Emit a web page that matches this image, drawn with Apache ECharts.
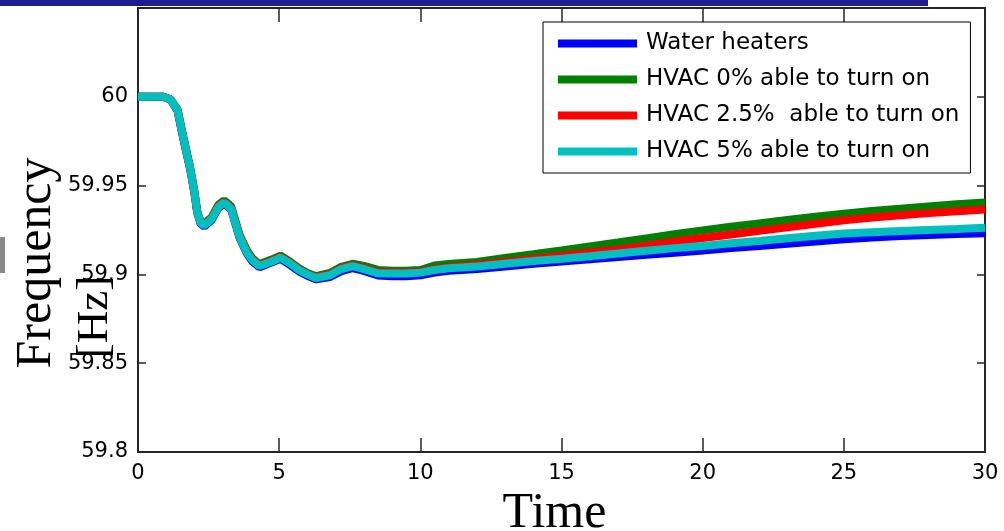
<!DOCTYPE html>
<html>
<head>
<meta charset="utf-8">
<script src="https://cdn.jsdelivr.net/npm/echarts@6/dist/echarts.min.js"></script>
<style>
  html, body { margin: 0; padding: 0; background: #fff; }
  #chart { width: 1004px; height: 531px; }
</style>
</head>
<body>
<div id="chart"></div>
<script>
// time axis (s)
const time = [0, 0.5, 0.9, 1.15, 1.4, 1.55, 1.7, 1.85, 2.0, 2.1,
  2.22, 2.35, 2.6, 2.85, 3.05, 3.3, 3.6, 3.85, 4.05, 4.3,
  4.7, 5.05, 5.4, 5.7, 6.0, 6.3, 6.8, 7.2, 7.6, 8.0,
  8.5, 9.0, 9.5, 10.0, 10.5,
  11, 12, 13, 14, 15, 16, 17, 18, 19, 20,
  21, 22, 23, 24, 25, 26, 27, 28, 29, 30];

const waterHeaters = [60, 60, 60, 59.9985, 59.992, 59.9805, 59.9695, 59.959, 59.9455, 59.9345,
  59.9285, 59.927, 59.9305, 59.9375, 59.94, 59.9365, 59.9205, 59.912, 59.9073, 59.904,
  59.9065, 59.9088, 59.9052, 59.9017, 59.8992, 59.8972, 59.8985, 59.9018, 59.9035, 59.902,
  59.8994, 59.899, 59.899, 59.8995, 59.901,
  59.902, 59.903, 59.9045, 59.906, 59.9072, 59.9085, 59.9098, 59.911, 59.9122, 59.9135,
  59.9148, 59.916, 59.9172, 59.9185, 59.9198, 59.9208, 59.9216, 59.9222, 59.9227, 59.9232];

const hvac0 = [60, 60, 60, 59.9985, 59.993, 59.9815, 59.9705, 59.96, 59.9465, 59.9355,
  59.9295, 59.9285, 59.932, 59.9393, 59.9417, 59.9383, 59.9222, 59.9137, 59.9091, 59.9057,
  59.9082, 59.9105, 59.907, 59.9035, 59.9008, 59.899, 59.9008, 59.9043, 59.906, 59.9048,
  59.9025, 59.902, 59.902, 59.9025, 59.905,
  59.9058, 59.907, 59.9092, 59.9113, 59.9135, 59.9158, 59.918, 59.9203, 59.9226, 59.9248,
  59.9268, 59.9287, 59.9306, 59.9325, 59.9342, 59.9357, 59.937, 59.9383, 59.9395, 59.9405];

const hvac25 = [60, 60, 60, 59.9985, 59.9925, 59.981, 59.970, 59.9595, 59.946, 59.935,
  59.929, 59.9278, 59.9313, 59.9385, 59.9408, 59.9375, 59.9215, 59.913, 59.9085, 59.905,
  59.9074, 59.9098, 59.9064, 59.9028, 59.9003, 59.8984, 59.9, 59.9035, 59.9052, 59.9036,
  59.9012, 59.901, 59.901, 59.9015, 59.903,
  59.904, 59.9055, 59.907, 59.9088, 59.9105, 59.9123, 59.914, 59.9162, 59.9185, 59.9205,
  59.9225, 59.9245, 59.9265, 59.9285, 59.9305, 59.932, 59.9333, 59.9345, 59.9355, 59.9365];

const hvac5 = [60, 60, 60, 59.9985, 59.9925, 59.981, 59.970, 59.9595, 59.946, 59.935,
  59.929, 59.9275, 59.931, 59.938, 59.9405, 59.937, 59.921, 59.9125, 59.908, 59.9047,
  59.907, 59.9094, 59.906, 59.9025, 59.900, 59.898, 59.8995, 59.903, 59.9047, 59.903,
  59.9006, 59.9005, 59.9005, 59.901, 59.9025,
  59.9035, 59.9045, 59.906, 59.9075, 59.9088, 59.9102, 59.9118, 59.9133, 59.9148, 59.916,
  59.9175, 59.9188, 59.9203, 59.9218, 59.923, 59.9238, 59.9245, 59.925, 59.9255, 59.9262];

const seriesNames = ['Water heaters', 'HVAC 0% able to turn on', 'HVAC 2.5%  able to turn on', 'HVAC 5% able to turn on'];
const seriesColors = ['#0000ff', '#008000', '#ff0000', '#00bfbf'];
const seriesValues = [waterHeaters, hvac0, hvac25, hvac5];

let myChart = echarts.init(document.getElementById('chart'));

const axisColor = '#262626';
const tickFont = { fontFamily: 'DejaVu Sans', fontSize: 21, color: '#000' };

let series = seriesValues.map((vals, i) => ({
  name: seriesNames[i],
  type: 'line',
  showSymbol: false,
  animation: false,
  data: time.map((t, k) => [t, vals[k]]),
  lineStyle: { width: 8, color: seriesColors[i] },
  itemStyle: { color: seriesColors[i] }
}));

let xCommon = {
  type: 'value', min: 0, max: 30, interval: 5,
  splitLine: { show: false },
  axisLine: { show: true, onZero: false, lineStyle: { color: axisColor, width: 2 } },
  axisTick: { show: true, inside: true, length: 14, lineStyle: { color: axisColor, width: 1.5 } }
};
let yCommon = {
  type: 'value', min: 59.8, max: 60.05, interval: 0.05,
  splitLine: { show: false },
  axisLine: { show: true, onZero: false, lineStyle: { color: axisColor, width: 2 } },
  axisTick: { show: true, inside: true, length: 8, lineStyle: { color: axisColor, width: 1.5 } }
};

option = {
  backgroundColor: '#fff',
  animation: false,
  grid: { left: 138, right: 19, top: 8, bottom: 79, containLabel: false, outerBoundsMode: 'none' },
  legend: {
    orient: 'vertical',
    left: 543, top: 22,
    icon: 'rect',
    itemWidth: 79, itemHeight: 8, itemGap: 13,
    padding: [10, 11, 10, 15],
    borderColor: '#000', borderWidth: 1,
    backgroundColor: '#fff',
    textStyle: { fontFamily: 'DejaVu Sans', fontSize: 23, color: '#000', padding: [0, 0, 0, 4] },
    data: seriesNames
  },
  xAxis: [
    Object.assign({}, xCommon, {
      position: 'bottom',
      axisLabel: Object.assign({ margin: 11 }, tickFont),
      name: 'Time', nameLocation: 'middle', nameGap: 34,
      nameTextStyle: { fontFamily: 'Liberation Serif', fontSize: 50, color: '#000', padding: [0, 14, 0, 0] }
    }),
    Object.assign({}, xCommon, { position: 'top', axisLabel: { show: false } })
  ],
  yAxis: [
    Object.assign({}, yCommon, {
      position: 'left',
      axisLabel: Object.assign({
        margin: 10,
        formatter: v => v > 60.01 ? '' : String(+v.toFixed(2))
      }, tickFont)
    }),
    Object.assign({}, yCommon, { position: 'right', axisLabel: { show: false } })
  ],
  graphic: [
    { type: 'rect', left: 0, top: 0, shape: { width: 928, height: 6 }, style: { fill: '#1e1e8f' } },
    { type: 'rect', left: 0, top: 237, shape: { width: 5, height: 36 }, style: { fill: '#8a8a8a' } },
    {
      type: 'text', x: 37, y: 263, rotation: Math.PI / 2,
      style: { text: 'Frequency', fontFamily: 'Liberation Serif', fontSize: 50, fill: '#000', align: 'center', verticalAlign: 'middle' }
    },
    {
      type: 'text', x: 95, y: 317, rotation: Math.PI / 2,
      style: { text: '[Hz]', fontFamily: 'Liberation Serif', fontSize: 45, fill: '#000', align: 'center', verticalAlign: 'middle' }
    }
  ],
  series: series
};

myChart.setOption(option);
</script>
</body>
</html>
